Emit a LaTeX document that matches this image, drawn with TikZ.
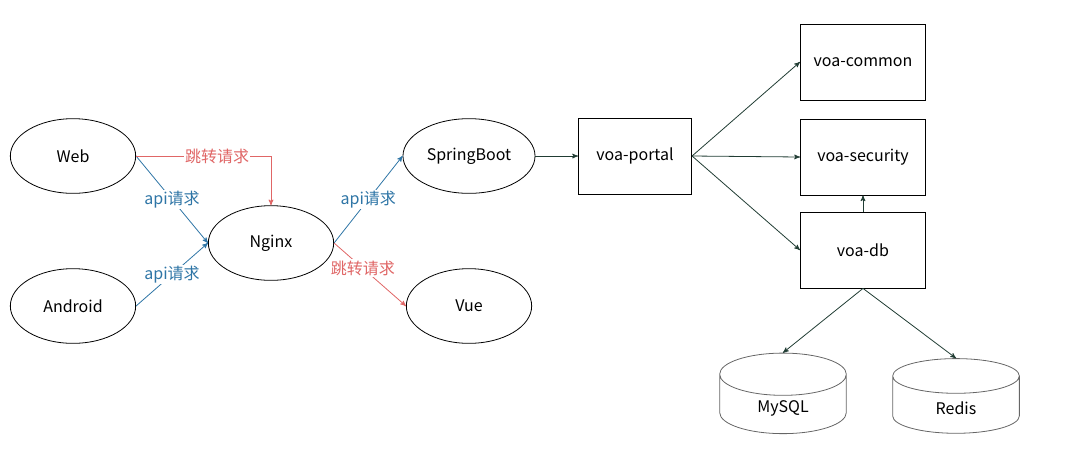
\documentclass[tikz,border=0pt]{standalone}
\usepackage{fontspec}
\setmainfont{Noto Sans CJK SC}
\usetikzlibrary{arrows,shapes.geometric}
\definecolor{apiblue}{RGB}{46,117,166}
\definecolor{jumpred}{RGB}{224,102,102}
\definecolor{linkdark}{RGB}{33,61,52}

\begin{document}
\begin{tikzpicture}
  [x=0.75pt,y=-0.75pt,every node/.style={draw,line width=0.6pt,font=\fontsize{12}{14}\selectfont}]

  \tikzstyle{client} = [ellipse, minimum width=94pt, minimum height=56pt]
  \tikzstyle{module} = [rectangle, minimum width=94pt, minimum height=57pt]
  \tikzstyle{store}  = [cylinder, shape border rotate=90, aspect=0.7, minimum width=95pt, minimum height=56pt, draw=black!60]
  \tikzstyle{tag}    = [draw=none, fill=white, inner sep=1pt]

  \useasboundingbox (0,0) rectangle (1073,455);

  \node[client] (web)     at (73,156)  {Web};
  \node[client] (android) at (73,306)  {Android};
  \node[client] (nginx)   at (271,243) {Nginx};
  \node[client] (spring)  at (469,156) {SpringBoot};
  \node[client] (vue)     at (469,306) {Vue};

  \node[module, minimum width=85pt] (portal) at (635,156) {voa-portal};
  \node[module] (common)   at (863,62)  {voa-common};
  \node[module] (security) at (863,157) {voa-security};
  \node[module] (db)       at (863,250) {voa-db};

  \node[store] (mysql) at (783,408) {MySQL};
  \node[store] (redis) at (956,408) {Redis};

  \path[->, >=stealth', apiblue, line width=0.6pt]
        (web.east)     edge node[tag,text=apiblue] {api请求} (nginx.west)
        (android.east) edge node[tag,text=apiblue] {api请求} (nginx.west)
        (nginx.east)   edge node[tag,text=apiblue] {api请求} (spring.west);

  \draw[->, >=stealth', jumpred, line width=0.6pt]
        (web.east) -| node[tag,text=jumpred,pos=0.3] {跳转请求} (nginx.north);
  \path[->, >=stealth', jumpred, line width=0.6pt]
        (nginx.east) edge node[tag,text=jumpred,pos=0.4] {跳转请求} (vue.west);

  \path[->, >=stealth', linkdark, line width=0.6pt]
        (spring.east)  edge (portal.west)
        (portal.east)  edge (common.west)
        (portal.east)  edge (security.west)
        (portal.east)  edge (db.west)
        (db.north)     edge (security.south)
        (db.south)     edge (mysql.top)
        (db.south)     edge (redis.top);
\end{tikzpicture}
\end{document}
